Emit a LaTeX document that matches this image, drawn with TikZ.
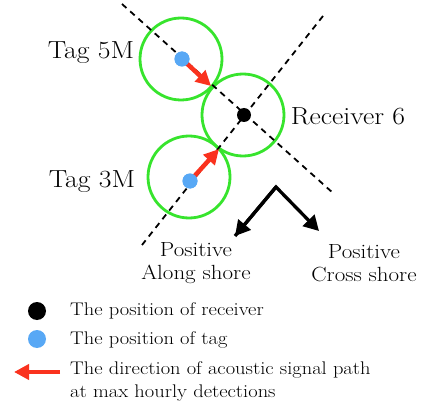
\documentclass[tikz,border=0pt]{standalone}
\usepackage{fontspec}
\setmainfont{Latin Modern Roman}[FakeStretch=1.12]
\usetikzlibrary{arrows.meta}
\definecolor{ringgreen}{RGB}{55,228,45}
\definecolor{tagblue}{RGB}{88,168,245}
\definecolor{sigred}{RGB}{250,50,30}
\begin{document}
\begin{tikzpicture}[x=1pt,y=-1pt,
  ring/.style={circle,draw=ringgreen,line width=2.8pt,minimum size=82pt,inner sep=0pt},
  rdot/.style={circle,fill=black,minimum size=14pt,inner sep=0pt},
  tdot/.style={circle,fill=tagblue,minimum size=15pt,inner sep=0pt},
  axisline/.style={line width=1.8pt,dash pattern=on 6pt off 5pt},
  sigarrow/.style={sigred,line width=4.5pt,-{Triangle[length=15pt,width=15pt]}},
  dirarrow/.style={black,line width=3.3pt,-{Triangle[length=15pt,width=16pt]}},
  biglabel/.style={font=\fontsize{24.7}{28}\selectfont,inner sep=0pt},
  poslabel/.style={font=\fontsize{20.5}{23}\selectfont,align=center,inner sep=0pt},
  leglabel/.style={font=\fontsize{18.3}{23}\selectfont,align=left,anchor=west,inner sep=0pt}]
\useasboundingbox (0,0) rectangle (421,404);
% rings
\node[ring] (r5) at (181,59) {};
\node[ring] (r6) at (243,115) {};
\node[ring] (r3) at (189,177) {};
% axes
\coordinate (a1s) at (122,4);
\coordinate (a1e) at (333,193);
\coordinate (a2s) at (323,16);
\coordinate (a2e) at (142,245);
\draw[axisline] (a1s) -- (a1e);
\draw[axisline] (a2s) -- (a2e);
% signal arrows
\coordinate (s5) at (211,86);
\coordinate (s3) at (219,149);
\node[tdot] (t5) at (182,59) {};
\node[tdot] (t3) at (190,181) {};
\draw[sigarrow] (t5.center) -- (s5);
\draw[sigarrow] (t3.center) -- (s3);
\node[tdot] at (t5) {};
\node[tdot] at (t3) {};
\node[rdot] (rx) at (244,115) {};
% labels
\node[biglabel] (l5) at (91,53) {Tag 5M};
\node[biglabel] (l3) at (92,182) {Tag 3M};
\node[biglabel] (l6) at (348,116) {Receiver 6};
% direction arrows
\coordinate (apex) at (276,187);
\coordinate (along) at (235,236);
\coordinate (cross) at (319,231);
\draw[dirarrow,line join=miter] (along) -- (apex) -- (cross);
\draw[dirarrow] (apex) -- (along);
\node[poslabel] (pa) at (196,263) {Positive\\Along shore};
\node[poslabel] (pc) at (364,263) {Positive\\Cross shore};
% legend
\node[rdot,minimum size=18pt] (lg1) at (37,311) {};
\node[tdot,minimum size=18pt] (lg2) at (37,339) {};
\coordinate (lg3s) at (60,372);
\coordinate (lg3e) at (14,372);
\draw[sigarrow] (lg3s) -- (lg3e);
\node[leglabel] (lt1) at (70,311) {The position of receiver};
\node[leglabel] (lt2) at (70,340) {The position of tag};
\node[leglabel,anchor=north west] (lt3) at (70,361) {The direction of acoustic signal path\\at max hourly detections};
\end{tikzpicture}
\end{document}
